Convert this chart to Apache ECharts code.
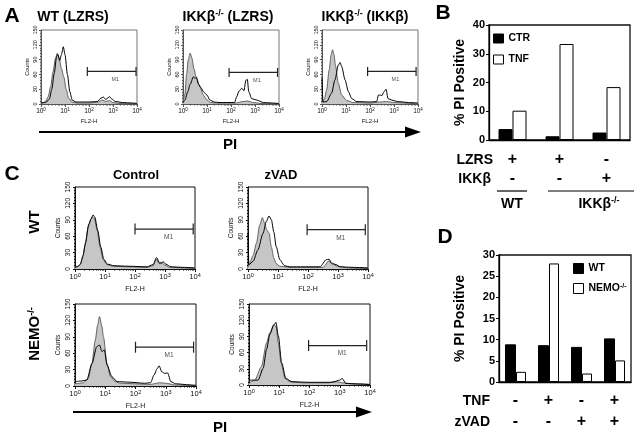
<!DOCTYPE html>
<html><head><meta charset="utf-8">
<script src="https://cdn.jsdelivr.net/npm/echarts@6/dist/echarts.min.js"></script>
<style>html,body{margin:0;padding:0;background:#fff}#c{width:639px;height:438px}</style>
</head><body><div id="c"></div>
<script>
// ---------- DATA ----------
// Histograms: [log10(FL2-H), Counts]
const A1_gray = [[0,2],[0.1,3],[0.2,6],[0.3,15],[0.4,35],[0.5,65],[0.6,92],[0.68,103],[0.75,95],[0.85,72],[0.95,55],[1.05,30],[1.15,12],[1.3,4],[1.5,2],[2.0,2],[2.4,4],[2.55,8],[2.7,5],[2.85,7],[3.0,3],[3.3,1],[4,0]];
const A1_black = [[0,2],[0.2,3],[0.35,10],[0.45,30],[0.55,62],[0.65,96],[0.7,100],[0.78,88],[0.85,100],[0.93,116],[1.0,100],[1.1,60],[1.2,25],[1.3,8],[1.45,4],[2.0,4],[2.35,5],[2.5,12],[2.6,14],[2.7,9],[2.85,15],[2.95,10],[3.1,5],[3.4,3],[3.8,2],[4,1]];
const A2_gray = [[0,3],[0.08,20],[0.15,60],[0.22,90],[0.3,103],[0.38,92],[0.45,72],[0.55,55],[0.7,35],[0.85,18],[1.0,8],[1.15,3],[1.4,2],[2.2,2],[2.5,5],[2.7,6],[2.9,3],[3.3,1],[4,0]];
const A2_black = [[0,2],[0.08,8],[0.2,25],[0.3,40],[0.43,55],[0.5,52],[0.55,54],[0.65,40],[0.75,33],[0.85,25],[1.0,18],[1.12,8],[1.3,4],[1.5,3],[2.15,3],[2.24,15],[2.33,26],[2.45,32],[2.54,27],[2.62,48],[2.68,50],[2.74,25],[2.86,11],[3.07,8],[3.35,3],[3.7,2],[4,1]];
const A3_gray = [[0,3],[0.1,10],[0.19,28],[0.3,69],[0.38,100],[0.44,110],[0.5,100],[0.56,78],[0.68,42],[0.82,18],[1.03,7],[1.3,3],[2.0,2],[2.4,4],[2.7,5],[3.0,3],[4,0]];
const A3_black = [[0,52],[0.04,4],[0.2,5],[0.4,22],[0.54,49],[0.68,79],[0.75,84],[0.82,76],[0.96,49],[1.1,25],[1.24,11],[1.44,5],[2.0,4],[2.28,5],[2.35,18],[2.45,18],[2.5,17],[2.58,25],[2.67,30],[2.75,11],[2.9,8],[3.14,5],[3.6,3],[4,2]];
const C1_gray = [[0,3],[0.1,4],[0.17,8],[0.25,20],[0.33,41],[0.44,77],[0.52,90],[0.58,95],[0.64,93],[0.74,71],[0.83,41],[0.94,17],[1.06,8],[1.28,5],[1.8,4],[2.4,3],[2.6,6],[2.72,18],[2.8,10],[2.92,10],[3.0,7],[3.15,3],[4,1]];
const C1_black = [[0,3],[0.1,5],[0.18,9],[0.27,25],[0.35,48],[0.46,82],[0.54,92],[0.6,99],[0.66,95],[0.76,70],[0.86,40],[0.96,18],[1.08,9],[1.3,6],[1.8,5],[2.4,4],[2.6,8],[2.72,21],[2.82,11],[2.95,13],[3.02,9],[3.2,4],[3.6,3],[4,2]];
const C2_gray = [[0,4],[0.06,11],[0.17,25],[0.28,47],[0.39,80],[0.48,94],[0.56,83],[0.62,72],[0.7,66],[0.78,40],[0.86,20],[0.94,10],[1.06,5],[1.4,3],[2.5,3],[2.7,15],[2.8,9],[3.0,5],[3.3,2],[4,1]];
const C2_black = [[0,65],[0.03,8],[0.17,14],[0.33,35],[0.5,65],[0.61,87],[0.7,97],[0.78,90],[0.86,68],[0.94,41],[1.06,17],[1.22,6],[1.39,4],[2.4,4],[2.61,17],[2.7,18],[2.78,11],[2.94,8],[3.06,4],[3.5,3],[4,2]];
const C3_gray = [[0,4],[0.15,5],[0.28,6],[0.44,14],[0.56,41],[0.67,84],[0.75,112],[0.81,127],[0.89,109],[0.94,90],[1.06,41],[1.17,17],[1.33,8],[1.5,5],[2.5,3],[2.8,6],[3.0,5],[3.3,2],[4,1]];
const C3_black = [[0,8],[0.2,9],[0.39,11],[0.56,41],[0.72,72],[0.81,75],[0.89,63],[0.97,66],[1.06,38],[1.22,17],[1.39,8],[1.8,7],[2.3,5],[2.5,6],[2.61,20],[2.72,32],[2.78,37],[2.87,26],[2.97,23],[3.06,24],[3.17,8],[3.33,4],[3.8,2],[4,1]];
const C4_gray = [[0,3],[0.19,9],[0.41,34],[0.58,78],[0.69,97],[0.82,112],[0.89,109],[0.97,78],[1.06,41],[1.19,12],[1.36,6],[1.8,4],[2.6,4],[2.9,6],[3.1,4],[3.4,2],[4,1]];
const C4_black = [[0,9],[0.3,9],[0.47,31],[0.58,66],[0.69,94],[0.82,111],[0.89,116],[0.97,91],[1.08,41],[1.22,12],[1.42,6],[2.0,5],[2.7,5],[2.8,6],[3.0,9],[3.08,12],[3.2,3],[3.6,2],[4,1]];
// M1 gates: [from, to, counts level]
const M1_A1 = [1.93, 3.96, 66], M1_A2 = [1.92, 3.94, 64], M1_A3 = [1.9, 3.92, 66];
const M1_C1 = [2.0, 3.94, 73], M1_C2 = [1.97, 3.91, 72], M1_C3 = [2.0, 3.92, 71], M1_C4 = [1.97, 3.89, 73];
const decadeLabels = ['0','1','2','3','4'];

// Panel B
const catsB = ['WT LZRS', 'IKKβ-/- LZRS', 'IKKβ-/- IKKβ'];
const ctrB = [3.8, 1.3, 2.6];
const tnfB = [10.2, 33.4, 18.4];
const lzrsRow = ['+', '+', '-'];
const ikkRow = ['-', '-', '+'];
const yTicksB = [0, 10, 20, 30, 40];

// Panel D
const catsD = ['ctrl', 'TNF', 'zVAD', 'TNF+zVAD'];
const wtD = [8.9, 8.7, 8.3, 10.3];
const nemoD = [2.4, 28.0, 2.0, 5.1];
const tnfRow = ['-', '+', '-', '+'];
const zvadRow = ['-', '-', '+', '+'];
const yTicksD = [0, 5, 10, 15, 20, 25, 30];

// ---------- CHART ----------
const FF = '"Liberation Sans", Arial, Helvetica, sans-serif';
const minorTicks = [];
for (let d = 0; d < 4; d++) for (let k = 2; k <= 9; k++) minorTicks.push(d + Math.log10(k));

const grids = [
  {left:41, top:30, width:96, height:74},
  {left:183, top:30, width:96, height:74},
  {left:322, top:30, width:96, height:74},
  {left:75, top:187, width:120, height:82},
  {left:248, top:187, width:120, height:82},
  {left:75, top:304, width:121, height:82},
  {left:249, top:304, width:121, height:81},
  {left:489, top:25, width:141, height:115},
  {left:499, top:255, width:132, height:127}
];
const hists = [
  [A1_gray, A1_black, M1_A1, false],
  [A2_gray, A2_black, M1_A2, false],
  [A3_gray, A3_black, M1_A3, false],
  [C1_gray, C1_black, M1_C1, true],
  [C2_gray, C2_black, M1_C2, true],
  [C3_gray, C3_black, M1_C3, true],
  [C4_gray, C4_black, M1_C4, true]
];
const xAxes = [], yAxes = [], series = [];
const gridOpts = grids.map((g, i) => Object.assign({show:true, backgroundColor:'transparent',
  borderColor: i < 3 ? '#777' : '#111', borderWidth: i < 7 ? 1 : 1.3}, g));

hists.forEach((h, i) => {
  const big = h[3];
  const fs = big ? 7.5 : 6.5;
  const col = big ? '#111' : '#555';
  xAxes.push({gridIndex:i, type:'value', min:0, max:4, interval:1, position:'bottom',
    axisLine:{show:true, onZero:false, lineStyle:{color:col, width:1}},
    axisTick:{show:true, length:3, lineStyle:{color:col}},
    axisLabel:{fontSize:fs, color:'#111', margin:3, fontFamily:FF,
      formatter: v => '10{s|' + decadeLabels[v] + '}',
      rich:{s:{fontSize:fs-2, verticalAlign:'top', padding:[0,0,4,0], fontFamily:FF}}},
    splitLine:{show:false},
    name:'FL2-H', nameLocation:'middle', nameGap: big ? 17 : 14,
    nameTextStyle:{fontSize:fs-0.5, color:'#111', fontFamily:FF}});
  xAxes.push({gridIndex:i, type:'value', min:0, max:4, position:'bottom',
    axisLine:{show:false}, axisTick:{show:true, customValues:minorTicks, length:1.5, lineStyle:{color:col}},
    axisLabel:{show:false}, splitLine:{show:false}});
  yAxes.push({gridIndex:i, type:'value', min:0, max:150, interval:30,
    axisLine:{show:true, lineStyle:{color:col, width:1}},
    axisTick:{show:true, length:2, lineStyle:{color:col}},
    minorTick:{show:true, splitNumber:5, length:1, lineStyle:{color:col}},
    axisLabel:{rotate:90, fontSize:fs-1, color:'#111', margin:3, fontFamily:FF},
    splitLine:{show:false},
    name:'Counts', nameLocation:'middle', nameRotate:90, nameGap: big ? 13 : 11,
    nameTextStyle:{fontSize:fs-1, color:'#111', fontFamily:FF}});
  const xi = i * 2;
  series.push({type:'line', xAxisIndex:xi, yAxisIndex:i, data:h[0], smooth:0.25, smoothMonotone:'x',
    showSymbol:false, silent:true, lineStyle:{color:'#555', width:0.9},
    areaStyle:{color:'#c6c6c6', opacity:1}, z:2});
  series.push({type:'line', xAxisIndex:xi, yAxisIndex:i, data:h[1], smooth:0.25, smoothMonotone:'x',
    showSymbol:false, silent:true, lineStyle:{color:'#000', width:1}, z:3});
  const m = h[2];
  series.push({type:'line', xAxisIndex:xi, yAxisIndex:i, data:[[m[0], m[2]], [m[1], m[2]]],
    symbol:'rect', symbolSize:[1.2, big ? 11 : 9], showSymbol:true, silent:true,
    lineStyle:{color:'#222', width:1.2}, itemStyle:{color:'#222'}, z:4});
  series.push({type:'scatter', xAxisIndex:xi, yAxisIndex:i,
    data:[[(m[0] + m[1]) / 2 + 0.15, m[2] - (big ? 15 : 17)]], symbolSize:0, silent:true,
    label:{show:true, formatter:'M1', position:'inside', fontSize: big ? 6.5 : 5.5, color:'#222', fontFamily:FF}, z:4});
});

// Panel B axes
xAxes.push({gridIndex:7, type:'category', data:catsB,
  axisLine:{show:true, lineStyle:{color:'#000', width:1.3}}, axisTick:{show:false},
  axisLabel:{interval:0, formatter:(v, i) => lzrsRow[i] + '\n' + ikkRow[i], fontSize:16, fontWeight:'bold',
    lineHeight:19, margin:10, color:'#000', fontFamily:FF}});
yAxes.push({gridIndex:7, type:'value', min:0, max:40, interval:10,
  axisLine:{show:true, lineStyle:{color:'#000', width:1.3}}, axisTick:{show:true, length:3, lineStyle:{color:'#000'}},
  axisLabel:{fontSize:11, fontWeight:'bold', color:'#000', margin:4, fontFamily:FF,
    formatter: v => yTicksB.includes(v) ? String(v) : ''},
  splitLine:{show:false},
  name:'% PI Positive', nameLocation:'middle', nameRotate:90, nameGap:22,
  nameTextStyle:{fontSize:14, fontWeight:'bold', color:'#000', fontFamily:FF}});
series.push({type:'bar', name:'CTR', xAxisIndex:14, yAxisIndex:7, data:ctrB, barWidth:14, barGap:'0%',
  itemStyle:{color:'#000', borderColor:'#000', borderWidth:1}});
series.push({type:'bar', name:'TNF', xAxisIndex:14, yAxisIndex:7, data:tnfB, barWidth:14, barGap:'0%',
  itemStyle:{color:'#fff', borderColor:'#000', borderWidth:1}});

// Panel D axes
xAxes.push({gridIndex:8, type:'category', data:catsD,
  axisLine:{show:true, lineStyle:{color:'#000', width:1.3}}, axisTick:{show:false},
  axisLabel:{interval:0, formatter:(v, i) => tnfRow[i] + '\n' + zvadRow[i], fontSize:16, fontWeight:'bold',
    lineHeight:21, margin:8, color:'#000', fontFamily:FF}});
yAxes.push({gridIndex:8, type:'value', min:0, max:30, interval:5,
  axisLine:{show:true, lineStyle:{color:'#000', width:1.3}}, axisTick:{show:true, length:3, lineStyle:{color:'#000'}},
  axisLabel:{fontSize:11, fontWeight:'bold', color:'#000', margin:4, fontFamily:FF,
    formatter: v => yTicksD.includes(v) ? String(v) : ''},
  splitLine:{show:false},
  name:'% PI Positive', nameLocation:'middle', nameRotate:90, nameGap:32,
  nameTextStyle:{fontSize:14, fontWeight:'bold', color:'#000', fontFamily:FF}});
series.push({type:'bar', name:'WT', xAxisIndex:15, yAxisIndex:8, data:wtD, barWidth:11, barGap:'0%',
  itemStyle:{color:'#000', borderColor:'#000', borderWidth:1}});
series.push({type:'bar', name:'NEMO-/-', xAxisIndex:15, yAxisIndex:8, data:nemoD, barWidth:10, barGap:'0%',
  itemStyle:{color:'#fff', borderColor:'#000', borderWidth:1}});

function txt(x, y, text, size, opts) {
  return Object.assign({type:'text', x:x, y:y, silent:true, style:Object.assign({text:text, fontSize:size,
    fontWeight:'bold', fontFamily:FF, fill:'#000', align:'center', verticalAlign:'middle',
    textAlign:'center', textVerticalAlign:'middle'}, (opts && opts.style) || {})}, (opts && opts.el) || {});
}
const supRich = {s:{fontSize:9, fontWeight:'bold', fontFamily:FF, verticalAlign:'top', padding:[0,0,6,0]}};
const graphics = [
  txt(12, 16, 'A', 21), txt(443, 13, 'B', 21), txt(12, 174, 'C', 21), txt(445, 237, 'D', 21),
  txt(73, 17, 'WT (LZRS)', 14),
  txt(228, 17, 'IKKβ{s|-/-} (LZRS)', 14, {style:{rich:supRich}}),
  txt(365, 17, 'IKKβ{s|-/-} (IKKβ)', 14, {style:{rich:supRich}}),
  txt(136, 175, 'Control', 13), txt(281, 175, 'zVAD', 13),
  txt(35, 222, 'WT', 15, {el:{rotation:Math.PI/2}}),
  txt(35, 334, 'NEMO{s|-/-}', 15, {el:{rotation:Math.PI/2}, style:{rich:supRich}}),
  {type:'line', silent:true, shape:{x1:39, y1:132, x2:407, y2:132}, style:{stroke:'#000', lineWidth:2}},
  {type:'polygon', silent:true, shape:{points:[[405,126.5],[421,132],[405,137.5]]}, style:{fill:'#000'}},
  txt(230, 145, 'PI', 15),
  {type:'line', silent:true, shape:{x1:73, y1:412, x2:358, y2:412}, style:{stroke:'#000', lineWidth:2}},
  {type:'polygon', silent:true, shape:{points:[[356,406.5],[372,412],[356,417.5]]}, style:{fill:'#000'}},
  txt(220, 428, 'PI', 15),
  txt(493, 160, 'LZRS', 14, {style:{align:'right', textAlign:'right'}}),
  txt(491, 179, 'IKKβ', 14, {style:{align:'right', textAlign:'right'}}),
  {type:'line', silent:true, shape:{x1:497, y1:191, x2:527, y2:191}, style:{stroke:'#000', lineWidth:1.2}},
  {type:'line', silent:true, shape:{x1:548, y1:191, x2:634, y2:191}, style:{stroke:'#000', lineWidth:1.2}},
  txt(512, 204, 'WT', 14),
  txt(599, 204, 'IKKβ{s|-/-}', 14, {style:{rich:supRich}}),
  txt(490, 401, 'TNF', 14, {style:{align:'right', textAlign:'right'}}),
  txt(490, 422, 'zVAD', 14, {style:{align:'right', textAlign:'right'}})
];

const chart = echarts.init(document.getElementById('c'), null, {renderer:'canvas'});
chart.setOption({
  animation:false,
  backgroundColor:'#fff',
  textStyle:{fontFamily:FF},
  grid:gridOpts,
  xAxis:xAxes,
  yAxis:yAxes,
  legend:[
    {data:['CTR','TNF'], orient:'vertical', left:493, top:33, itemWidth:10, itemHeight:9, itemGap:10,
      icon:'rect', selectedMode:false, padding:0, itemStyle:{borderColor:'#000', borderWidth:1},
      textStyle:{fontSize:10.5, fontWeight:'bold', color:'#000', fontFamily:FF}},
    {data:['WT','NEMO-/-'], orient:'vertical', left:573, top:263, itemWidth:10, itemHeight:10, itemGap:9,
      icon:'rect', selectedMode:false, padding:0, itemStyle:{borderColor:'#000', borderWidth:1},
      formatter: n => n === 'NEMO-/-' ? 'NEMO{s|-/-}' : n,
      textStyle:{fontSize:10.5, fontWeight:'bold', color:'#000', fontFamily:FF,
        rich:{s:{fontSize:7, fontWeight:'bold', verticalAlign:'top', padding:[0,0,4,0], fontFamily:FF}}}}
  ],
  series:series,
  graphic:graphics
});
</script></body></html>
